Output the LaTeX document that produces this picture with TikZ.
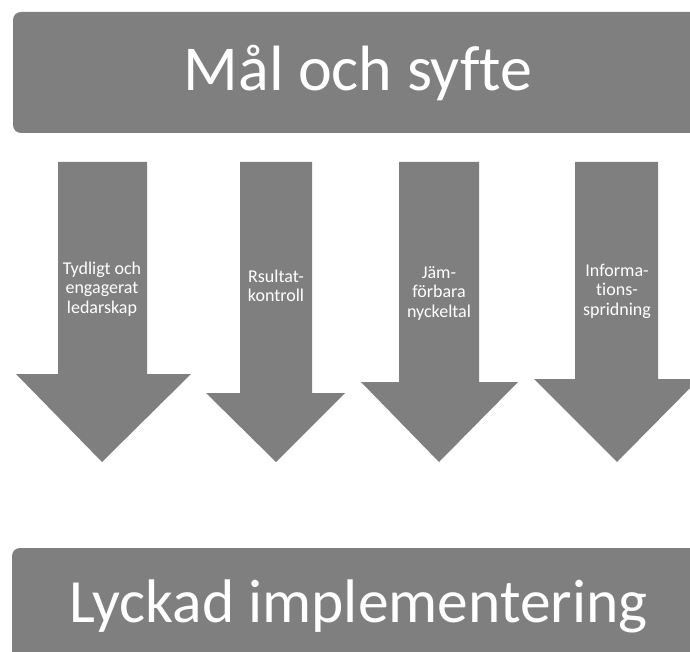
\documentclass[tikz,border=0pt]{standalone}
\usepackage{fontspec}
\setmainfont[Ligatures={NoCommon}]{Carlito}
\definecolor{boxgray}{HTML}{7F7F7F}
\tikzset{
  kasten/.style={fill=boxgray, rounded corners=8pt},
  pfeil/.style={fill=boxgray},
  titel/.style={text=white, inner sep=0pt, anchor=base, font=\fontsize{64}{70}\selectfont},
  pfeiltext/.style={text=white, inner sep=0pt, align=center, font=\fontsize{18}{19.5}\selectfont}
}
\begin{document}
\begin{tikzpicture}[x=1pt, y=-1pt]
		\clip (0, 0) rectangle (690, 652);
		\fill [white] (0, 0) rectangle (690, 652);
		% Oberer Kasten
		\fill [kasten] (13, 12) rectangle (710, 133);
		\node [titel] (ziel) at (358, 91) {Mål och syfte};
		% Pfeile
		\fill [pfeil] (58, 162) -- (147, 162) -- (147, 374) -- (191, 374) -- (102, 462) -- (16, 374) -- (58, 374) -- cycle;
		\fill [pfeil] (240, 162) -- (312, 162) -- (312, 393) -- (345, 393) -- (276, 462) -- (206, 393) -- (240, 393) -- cycle;
		\fill [pfeil] (399, 162) -- (479, 162) -- (479, 382) -- (518, 382) -- (439, 462) -- (361, 382) -- (399, 382) -- cycle;
		\fill [pfeil] (575, 162) -- (658, 162) -- (658, 379) -- (699, 379) -- (617, 462) -- (534, 379) -- (575, 379) -- cycle;
		% Texte in den Pfeilen
		\node [pfeiltext] (t1) at (102, 289) {Tydligt och\\engagerat\\ledarskap};
		\node [pfeiltext] (t2) at (276, 286) {Rsultat-\\kontroll};
		\node [pfeiltext] (t3) at (439, 293) {Jäm-\\förbara\\nyckeltal};
		\node [pfeiltext] (t4) at (617, 291) {Informa-\\tions-\\spridning};
		% Unterer Kasten
		\fill [kasten] (12, 548) rectangle (710, 670);
		\node [titel, font=\fontsize{61.5}{70}\selectfont] (ergebnis) at (358.5, 622) {Lyckad implementering};
	\end{tikzpicture}
\end{document}
